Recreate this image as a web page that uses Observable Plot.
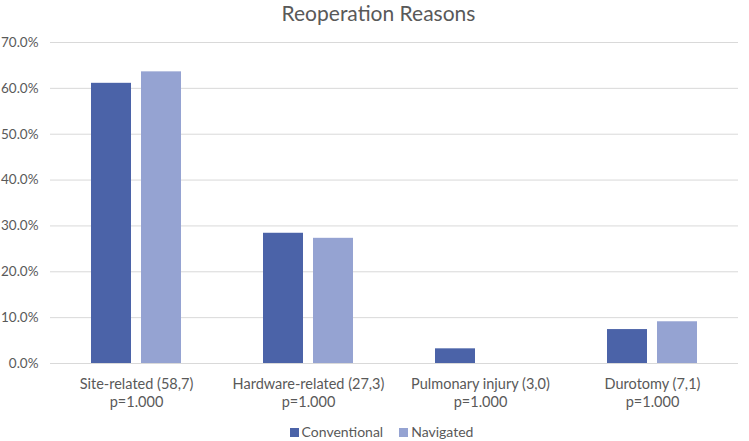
<!DOCTYPE html>
<html><head><meta charset="utf-8">
<script src="https://cdn.jsdelivr.net/npm/d3@7"></script>
<script src="https://cdn.jsdelivr.net/npm/@observablehq/plot@0.6"></script>
<style>
body{margin:0;background:#fff;font-family:Lato,"Open Sans",sans-serif;color:#595959;width:749px;height:441px;overflow:hidden}
#title{height:26px;line-height:26px;font-size:21px;text-align:center;color:#595959;margin-left:8px}
#legend{height:20px;line-height:20px;font-size:14px;display:flex;justify-content:center;gap:16px;margin-left:14px}
#legend span{display:inline-flex;align-items:center}
#legend i{display:inline-block;width:9px;height:9px;margin-right:3px}
</style></head><body>
<div id="title">Reoperation Reasons</div>
<div id="chart"></div>
<div id="legend"></div>
<script>
const categories = ["Site-related (58,7)\np=1.000","Hardware-related (27,3)\np=1.000","Pulmonary injury (3,0)\np=1.000","Durotomy (7,1)\np=1.000"];
const series = ["Conventional","Navigated"];
const conventional = [61.1, 28.4, 3.2, 7.4];
const navigated = [63.6, 27.3, 0, 9.1];
const yTicks = [0,10,20,30,40,50,60,70];
const colors = ["#4b63a8","#95a3d2"];

const rows = [];
categories.forEach((c,i)=>{
  rows.push({category:c, series:series[0], value:conventional[i]});
  rows.push({category:c, series:series[1], value:navigated[i]});
});

const plot = Plot.plot({
  width:749, height:396,
  marginLeft:50, marginRight:11, marginTop:16, marginBottom:59,
  style:{fontFamily:"Lato, 'Open Sans', sans-serif", fontSize:"13px", color:"#595959", overflow:"visible"},
  fx:{domain:categories, padding:0, label:null},
  x:{domain:series, axis:null, paddingInner:0.2, paddingOuter:0.82},
  y:{domain:[0,70], label:null},
  color:{domain:series, range:colors},
  marks:[
    Plot.ruleY(yTicks,{stroke:"#d9d9d9", strokeWidth:1}),
    Plot.barY(rows,{fx:"category", x:"series", y:"value", fill:"series"}),
    Plot.axisY({ticks:yTicks, tickSize:0, tickPadding:12, tickFormat:d=>d.toFixed(1)+"%", fontSize:13.5, fill:"#595959"}),
    Plot.axisFx({anchor:"bottom", tickSize:0, tickPadding:13, label:null, lineHeight:1.25, fontSize:14.5, fill:"#595959"})
  ]
});
document.getElementById("chart").appendChild(plot);

const lg = document.getElementById("legend");
series.forEach((s,i)=>{
  const sp=document.createElement("span");
  sp.innerHTML=`<i style="background:${colors[i]}"></i>${s}`;
  lg.appendChild(sp);
});
</script>
</body></html>
